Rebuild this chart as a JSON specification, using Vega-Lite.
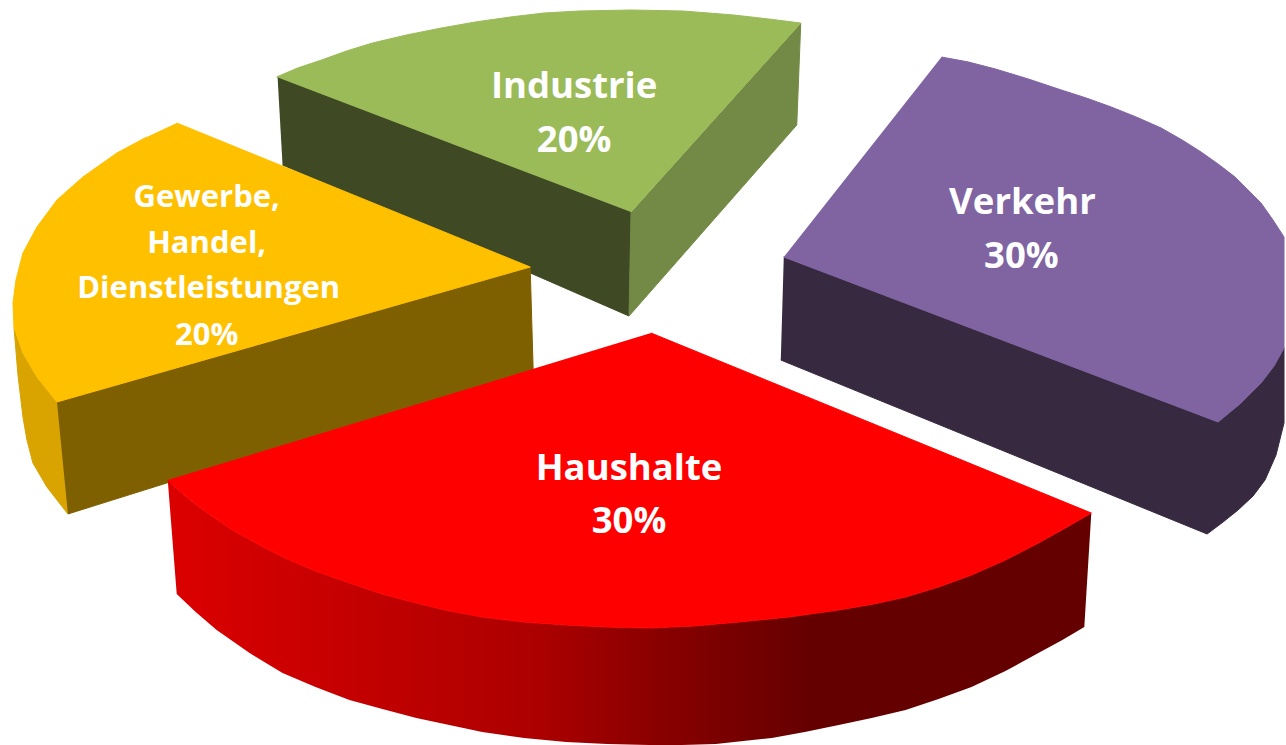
{
"$schema":"https://vega.github.io/schema/vega-lite/v6.json",
"width":1286,"height":745,"padding":0,
"autosize":{"type":"fit","contains":"padding"},
"background":"white",
"view":{"stroke":null},
"datasets":{
"faces":[
{"face":"Industrie links","x":278,"y":77},{"face":"Industrie links","x":632,"y":212},{"face":"Industrie links","x":630,"y":316},{"face":"Industrie links","x":283,"y":165},
{"face":"Industrie rechts","x":802,"y":23},{"face":"Industrie rechts","x":798,"y":125},{"face":"Industrie rechts","x":630,"y":316},{"face":"Industrie rechts","x":632,"y":212},
{"face":"Industrie","x":277,"y":77},{"face":"Industrie","x":298,"y":68},{"face":"Industrie","x":322,"y":60},{"face":"Industrie","x":347,"y":51},{"face":"Industrie","x":373,"y":43},{"face":"Industrie","x":407,"y":35},{"face":"Industrie","x":442,"y":28},{"face":"Industrie","x":476,"y":22},{"face":"Industrie","x":511,"y":17},{"face":"Industrie","x":545,"y":13},{"face":"Industrie","x":580,"y":11},{"face":"Industrie","x":632,"y":10},{"face":"Industrie","x":684,"y":11},{"face":"Industrie","x":735,"y":15},{"face":"Industrie","x":770,"y":19},{"face":"Industrie","x":802,"y":23},{"face":"Industrie","x":632,"y":212},
{"face":"Verkehr Seite","x":785,"y":257},{"face":"Verkehr Seite","x":1220,"y":422},{"face":"Verkehr Seite","x":1243,"y":403},{"face":"Verkehr Seite","x":1263,"y":383},{"face":"Verkehr Seite","x":1276,"y":366},{"face":"Verkehr Seite","x":1286,"y":348},{"face":"Verkehr Seite","x":1286,"y":423},{"face":"Verkehr Seite","x":1278,"y":455},{"face":"Verkehr Seite","x":1267,"y":480},{"face":"Verkehr Seite","x":1255,"y":496},{"face":"Verkehr Seite","x":1240,"y":510},{"face":"Verkehr Seite","x":1225,"y":522},{"face":"Verkehr Seite","x":1209,"y":534},{"face":"Verkehr Seite","x":782,"y":360},
{"face":"Verkehr","x":943,"y":57},{"face":"Verkehr","x":970,"y":62},{"face":"Verkehr","x":997,"y":69},{"face":"Verkehr","x":1030,"y":79},{"face":"Verkehr","x":1063,"y":90},{"face":"Verkehr","x":1088,"y":98},{"face":"Verkehr","x":1113,"y":107},{"face":"Verkehr","x":1138,"y":117},{"face":"Verkehr","x":1163,"y":128},{"face":"Verkehr","x":1184,"y":140},{"face":"Verkehr","x":1203,"y":152},{"face":"Verkehr","x":1220,"y":164},{"face":"Verkehr","x":1237,"y":177},{"face":"Verkehr","x":1250,"y":190},{"face":"Verkehr","x":1263,"y":203},{"face":"Verkehr","x":1275,"y":220},{"face":"Verkehr","x":1286,"y":237},{"face":"Verkehr","x":1286,"y":348},{"face":"Verkehr","x":1276,"y":366},{"face":"Verkehr","x":1263,"y":383},{"face":"Verkehr","x":1243,"y":403},{"face":"Verkehr","x":1220,"y":422},{"face":"Verkehr","x":785,"y":257},
{"face":"Gewerbe außen","x":14,"y":327},{"face":"Gewerbe außen","x":18,"y":375},{"face":"Gewerbe außen","x":23,"y":417},{"face":"Gewerbe außen","x":27,"y":440},{"face":"Gewerbe außen","x":33,"y":463},{"face":"Gewerbe außen","x":47,"y":487},{"face":"Gewerbe außen","x":68,"y":514},{"face":"Gewerbe außen","x":57,"y":402},{"face":"Gewerbe außen","x":37,"y":377},{"face":"Gewerbe außen","x":23,"y":353},
{"face":"Gewerbe Schnitt","x":57,"y":402},{"face":"Gewerbe Schnitt","x":531,"y":267},{"face":"Gewerbe Schnitt","x":534,"y":370},{"face":"Gewerbe Schnitt","x":167,"y":483},{"face":"Gewerbe Schnitt","x":68,"y":514},
{"face":"Gewerbe","x":177,"y":123},{"face":"Gewerbe","x":531,"y":267},{"face":"Gewerbe","x":57,"y":402},{"face":"Gewerbe","x":37,"y":377},{"face":"Gewerbe","x":23,"y":353},{"face":"Gewerbe","x":14,"y":327},{"face":"Gewerbe","x":13,"y":303},{"face":"Gewerbe","x":16,"y":280},{"face":"Gewerbe","x":23,"y":253},{"face":"Gewerbe","x":37,"y":227},{"face":"Gewerbe","x":57,"y":200},{"face":"Gewerbe","x":83,"y":177},{"face":"Gewerbe","x":117,"y":153},{"face":"Gewerbe","x":147,"y":137}
],
"redSide":[
{"x":168,"y":480},{"x":180,"y":491},{"x":193,"y":502},{"x":212,"y":516},{"x":233,"y":530},{"x":258,"y":544},{"x":283,"y":557},{"x":316,"y":571},{"x":350,"y":583},{"x":383,"y":594},{"x":417,"y":603},{"x":450,"y":611},{"x":483,"y":617},{"x":525,"y":622},{"x":567,"y":625},{"x":608,"y":627},{"x":650,"y":628},{"x":695,"y":626},{"x":740,"y":622},{"x":790,"y":617},{"x":840,"y":610},{"x":875,"y":604},{"x":907,"y":597},{"x":940,"y":587},{"x":973,"y":575},{"x":1007,"y":560},{"x":1040,"y":543},{"x":1067,"y":528},{"x":1093,"y":513},{"x":1086,"y":627},{"x":1064,"y":640},{"x":1040,"y":653},{"x":1007,"y":671},{"x":973,"y":687},{"x":940,"y":699},{"x":907,"y":710},{"x":873,"y":718},{"x":840,"y":725},{"x":806,"y":732},{"x":773,"y":738},{"x":717,"y":744},{"x":683,"y":745},{"x":650,"y":745},{"x":608,"y":744},{"x":567,"y":742},{"x":525,"y":738},{"x":483,"y":732},{"x":450,"y":725},{"x":417,"y":718},{"x":383,"y":709},{"x":350,"y":700},{"x":316,"y":687},{"x":283,"y":673},{"x":250,"y":653},{"x":217,"y":630},{"x":196,"y":612},{"x":177,"y":594}
],
"redTop":[
{"x":652,"y":333},{"x":1093,"y":513},{"x":1067,"y":528},{"x":1040,"y":543},{"x":1007,"y":560},{"x":973,"y":575},{"x":940,"y":587},{"x":907,"y":597},{"x":875,"y":604},{"x":840,"y":610},{"x":790,"y":617},{"x":740,"y":622},{"x":695,"y":626},{"x":650,"y":628},{"x":608,"y":627},{"x":567,"y":625},{"x":525,"y":622},{"x":483,"y":617},{"x":450,"y":611},{"x":417,"y":603},{"x":383,"y":594},{"x":350,"y":583},{"x":316,"y":571},{"x":283,"y":557},{"x":258,"y":544},{"x":233,"y":530},{"x":212,"y":516},{"x":193,"y":502},{"x":180,"y":491},{"x":168,"y":480}
],
"bigLabels":[
{"label":"Industrie","x":575,"y":87},{"label":"20%","x":575,"y":141},
{"label":"Verkehr","x":1024,"y":203},{"label":"30%","x":1023,"y":257},
{"label":"Haushalte","x":630,"y":469},{"label":"30%","x":630,"y":522}
],
"smallLabels":[
{"label":"Gewerbe,","x":207,"y":198},{"label":"Handel,","x":207,"y":244},{"label":"Dienstleistungen","x":209,"y":289},{"label":"20%","x":207,"y":336}
]
},
"encoding":{
"x":{"field":"x","type":"quantitative","scale":{"domain":[0,1286],"nice":false,"zero":false},"axis":null},
"y":{"field":"y","type":"quantitative","scale":{"domain":[745,0],"nice":false,"zero":false},"axis":null}
},
"layer":[
{"data":{"name":"faces"},
 "transform":[{"window":[{"op":"row_number","as":"vertex"}]}],
 "mark":{"type":"line","strokeWidth":1,"interpolate":"linear"},
 "encoding":{
  "order":{"field":"vertex","type":"quantitative"},
  "fill":{"field":"face","type":"nominal","legend":null,"scale":{"domain":["Industrie links","Industrie rechts","Industrie","Verkehr Seite","Verkehr","Gewerbe außen","Gewerbe Schnitt","Gewerbe"],"range":["#3F4923","#728A45","#9BBB59","#37293F","#8064A2","#D9A300","#7F6000","#FFC000"]}},
  "stroke":{"field":"face","type":"nominal","legend":null,"scale":{"domain":["Industrie links","Industrie rechts","Industrie","Verkehr Seite","Verkehr","Gewerbe außen","Gewerbe Schnitt","Gewerbe"],"range":["#3F4923","#728A45","#9BBB59","#37293F","#8064A2","#D9A300","#7F6000","#FFC000"]}}
 }},
{"data":{"name":"redSide"},
 "transform":[{"window":[{"op":"row_number","as":"vertex"}]}],
 "mark":{"type":"line","strokeWidth":0,"interpolate":"linear","fill":{"gradient":"linear","x1":0,"y1":0,"x2":1,"y2":0,"stops":[{"offset":0,"color":"#DC0000"},{"offset":0.2,"color":"#C40000"},{"offset":0.4,"color":"#AC0000"},{"offset":0.52,"color":"#8C0000"},{"offset":0.7,"color":"#640000"},{"offset":1,"color":"#640000"}]}},
 "encoding":{"order":{"field":"vertex","type":"quantitative"}}},
{"data":{"name":"redTop"},
 "transform":[{"window":[{"op":"row_number","as":"vertex"}]}],
 "mark":{"type":"line","fill":"#FF0000","stroke":"#FF0000","strokeWidth":1,"interpolate":"linear"},
 "encoding":{"order":{"field":"vertex","type":"quantitative"}}},
{"data":{"name":"bigLabels"},
 "mark":{"type":"text","font":"Open Sans","fontWeight":"bold","fontSize":36.5,"color":"#FFFFFF","align":"center","baseline":"middle"},
 "encoding":{"text":{"field":"label","type":"nominal"}}},
{"data":{"name":"smallLabels"},
 "mark":{"type":"text","font":"Open Sans","fontWeight":"bold","fontSize":31,"color":"#FFFFFF","align":"center","baseline":"middle"},
 "encoding":{"text":{"field":"label","type":"nominal"}}}
]
}
